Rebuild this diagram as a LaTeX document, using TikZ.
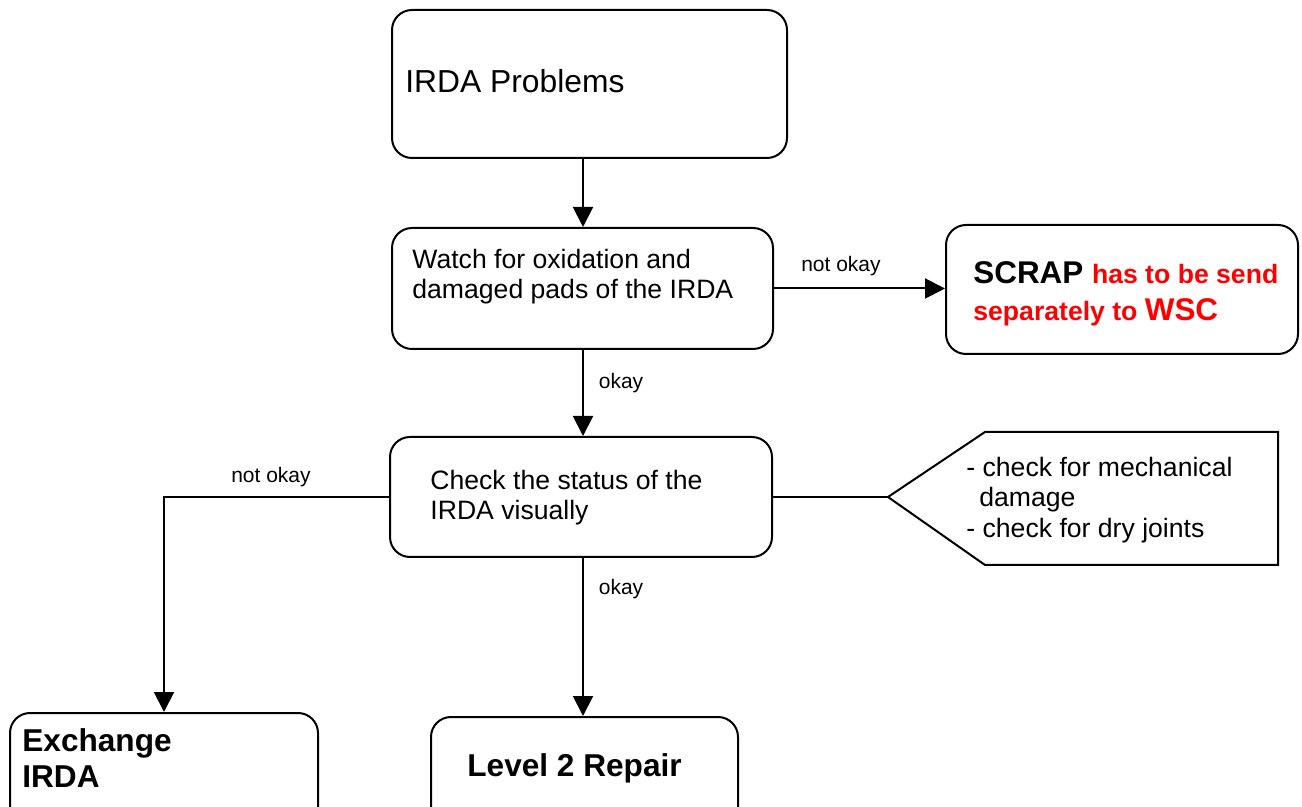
\documentclass[tikz,border=0pt]{standalone}
\usepackage{fontspec}
\setmainfont{Liberation Sans}
\usetikzlibrary{arrows.meta}
\definecolor{scrapred}{RGB}{255,0,0}
\begin{document}
\begin{tikzpicture}[x=0.5pt,y=-0.5pt,
  box/.style={draw, line width=1pt, rounded corners=10pt, inner sep=0pt},
  txt/.style={inner sep=0pt, anchor=base west},
  bigf/.style={font=\fontsize{15.9}{18}\selectfont},
  bigb/.style={font=\fontsize{15.8}{18}\selectfont\bfseries},
  midf/.style={font=\fontsize{13.3}{15}\selectfont},
  lab/.style={inner sep=0pt, font=\fontsize{10.5}{12}\selectfont},
  arr/.style={line width=1pt, -{Triangle[length=10pt,width=10pt]}},
  ln/.style={line width=1pt}]
\useasboundingbox (0,0) rectangle (1302,807);
\clip (0,0) rectangle (1302,807);

% boxes
\node[box, minimum width=197.5pt, minimum height=74pt] (top) at (589.5,84) {};
\node[box, minimum width=190.5pt, minimum height=60.5pt] (watch) at (582.5,288.5) {};
\node[box, minimum width=176pt, minimum height=64.5pt] (scrap) at (1122,289.5) {};
\node[box, minimum width=191pt, minimum height=60pt] (check) at (581,497) {};
\node[box, minimum width=154pt, minimum height=60pt] (exch) at (164,773) {};
\node[box, minimum width=153.5pt, minimum height=60pt] (lvl) at (584.5,777) {};

% callout
\coordinate (tip) at (888,497);
\draw[ln] (tip) -- (985,432) -- (1278,432) -- (1278,565) -- (985,565) -- cycle;

% texts
\node[txt, bigf] (t1) at (405,93) {IRDA Problems};
\node[txt, midf] (t2a) at (412,269) {Watch for oxidation and};
\node[txt, midf] (t2b) at (412,299) {damaged pads of the IRDA};
\node[txt, font=\fontsize{15.7}{18}\selectfont\bfseries] (t3a) at (973,284)
  {SCRAP {\fontsize{13.3}{15}\selectfont\color{scrapred}has to be send}};
\node[txt, font=\fontsize{13.3}{15}\selectfont\bfseries, text=scrapred] (t3b) at (973,321)
  {separately to {\fontsize{15.7}{18}\selectfont WSC}};
\node[txt, midf] (t4a) at (430,490) {Check the status of the};
\node[txt, midf] (t4b) at (430,520) {IRDA visually};
\node[txt, midf] (t5a) at (966,477) {- check for mechanical};
\node[txt, midf] (t5b) at (979,507) {damage};
\node[txt, midf] (t5c) at (966,538) {- check for dry joints};
\node[txt, bigb] (t6a) at (22,751) {Exchange};
\node[txt, bigb] (t6b) at (22,787) {IRDA};
\node[txt, bigb] (t7) at (467,776) {Level 2 Repair};

% connectors
\coordinate (ax) at (583,0);
\draw[arr] (top.south -| ax) -- (watch.north -| ax);
\draw[arr] (watch.south -| ax) -- (check.north -| ax);
\draw[arr] (watch.east) -- (watch.east -| scrap.west);
\draw[arr] (check.south -| ax) -- (lvl.north -| ax);
\draw[arr] (check.west) -| (exch.north);
\draw[ln] (check.east) -- (tip);

% labels
\node[lab] (l1) at (841,266) {not okay};
\node[lab] (l2) at (621,383) {okay};
\node[lab] (l3) at (621,589) {okay};
\node[lab] (l4) at (271,477) {not okay};
\end{tikzpicture}
\end{document}
